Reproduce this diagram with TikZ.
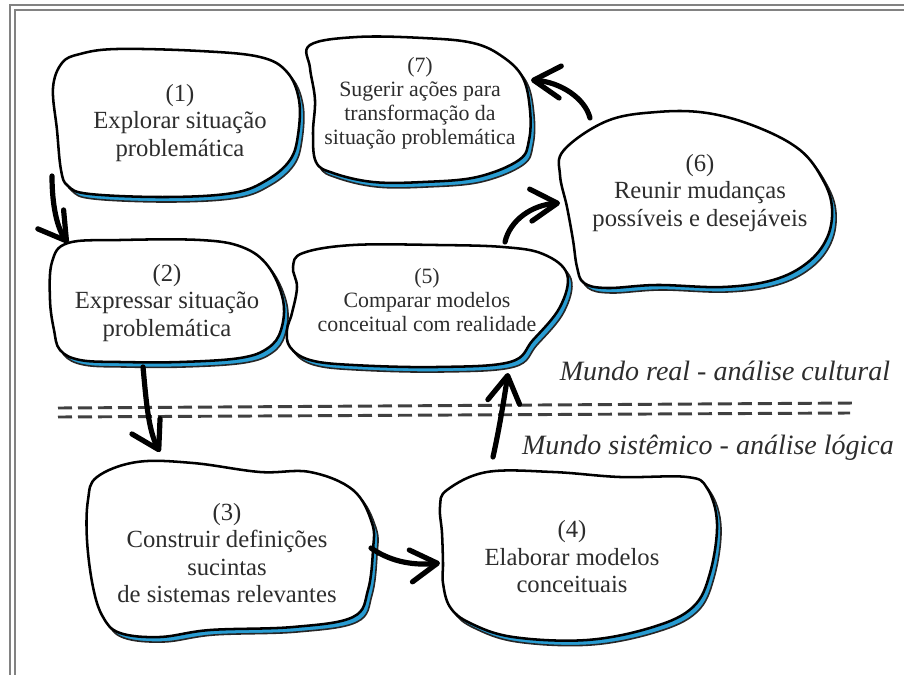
\documentclass[tikz,border=0pt]{standalone}
\usepackage{fontspec}
\setmainfont{Liberation Serif}
\usetikzlibrary{arrows.meta}
\definecolor{shadowblue}{RGB}{40,156,210}
\definecolor{inkgray}{RGB}{45,45,45}
\definecolor{framegray}{RGB}{130,130,130}

% hand-drawn blob: blue drop shadow plus white body with black outline
\newcommand{\drawblob}[1]{%
  \draw[blobshadow, shift={(4,5)}] plot[smooth cycle, tension=0.62] coordinates {#1};
  \draw[blobbody] plot[smooth cycle, tension=0.62] coordinates {#1};
}

\begin{document}
\begin{tikzpicture}[x=0.75pt,y=-0.75pt,
  blobbody/.style={draw=black, line width=1.9pt, fill=white, line join=round},
  blobshadow/.style={draw=black!85, line width=1.2pt, fill=shadowblue, line join=round},
  steplabel/.style={text=inkgray, align=center, font=\fontsize{18.5}{20.6}\selectfont},
  smalllabel/.style={text=inkgray, align=center, font=\fontsize{16.4}{18}\selectfont},
  worldlabel/.style={text=inkgray, font=\fontsize{21}{24}\selectfont\itshape},
  flow/.style={draw=black, line width=3.9pt, line cap=round,
    -{Straight Barb[length=20pt, width=24pt, line cap=round, line join=round]}},
  divider/.style={draw=black!75, line width=2.2pt, dash pattern=on 10.5pt off 4.5pt},
  frameline/.style={draw=framegray, line width=1.2pt}
]
\useasboundingbox (0,0) rectangle (904,675);

% page frame
\draw[frameline] (10,675) -- (10,5) -- (904,5);
\draw[frameline] (15,675) -- (15,10) -- (904,10);

% boundary between the real world and the systems world
\draw[divider] (58,408) -- (855,403);
\draw[divider] (58,417) -- (850,413);

% (1)
\drawblob{(53,88) (62,63) (80,54) (117,49) (200,51) (260,57) (287,72) (299,100)
  (298,135) (290,160) (267,180) (233,193) (167,197) (90,194) (68,186) (61,170) (57,130)}
% (7)
\drawblob{(310,45) (357,37) (423,38) (473,43) (503,57) (523,78) (530,110) (529,140)
  (519,160) (477,177) (423,182) (373,182) (333,173) (316,162) (313,133) (315,100) (310,68)}
% (6)
\drawblob{(564,150) (607,121) (657,112) (707,113) (757,127) (800,150) (823,180) (832,208)
  (827,238) (807,263) (773,280) (723,287) (657,285) (607,288) (584,283) (577,267)
  (573,240) (567,207) (560,175)}
% (2)
\drawblob{(52,262) (68,243) (120,240) (200,240) (242,247) (268,266) (283,300) (281,330)
  (268,348) (240,358) (180,362) (120,362) (80,360) (60,350) (54,330) (50,300)}
% (5)
\drawblob{(303,253) (353,245) (437,245) (503,247) (543,254) (567,274) (560,307) (533,340)
  (510,362) (437,367) (353,365) (310,360) (290,347) (287,330) (292,313) (297,287) (293,267)}
% (3)
\drawblob{(97,477) (137,462) (193,463) (260,472) (310,472) (353,490) (372,523) (373,550)
  (368,590) (353,617) (293,627) (210,630) (160,637) (120,633) (103,617) (93,587)
  (87,540) (88,500)}
% (4)
\drawblob{(447,490) (487,472) (553,472) (620,477) (687,477) (707,488) (717,523) (710,573)
  (693,607) (653,627) (587,640) (513,637) (470,623) (450,607) (443,583) (443,563)
  (442,533) (440,507)}

% step texts
\node[steplabel] (n1) at (180,123) {(1)\\Explorar situação\\problemática};
\node[steplabel] (n2) at (167,303) {(2)\\Expressar situação\\problemática};
\node[steplabel] (n3) at (227,553) {(3)\\Construir definições\\sucintas\\de sistemas relevantes};
\node[steplabel] (n4) at (572,557) {(4)\\Elaborar modelos\\conceituais};
\node[smalllabel] (n5) at (427,300) {(5)\\Comparar modelos\\conceitual com realidade};
\node[steplabel] (n6) at (700,193) {(6)\\Reunir mudanças\\possíveis e desejáveis};
\node[smalllabel] (n7) at (420,103) {(7)\\Sugerir ações para\\transformação da\\situação problemática};

% world labels
\node[worldlabel] (real) at (725,371) {Mundo real - análise cultural};
\node[worldlabel] (sys) at (708,448) {Mundo sistêmico - análise lógica};

% attachment points of the flow arrows
\coordinate (o1) at (52,176);   \coordinate (i2) at (68,243);
\coordinate (o2) at (143,367);  \coordinate (i3) at (160,452);
\coordinate (o3) at (371,548);  \coordinate (i4) at (440,563);
\coordinate (o4) at (493,457);  \coordinate (i5) at (508,373);
\coordinate (o5) at (505,242);  \coordinate (i6) at (560,203);
\coordinate (o6) at (590,118);  \coordinate (i7) at (531,80);

% flow of the method
\draw[flow] (o1) .. controls (52,205) and (57,228) .. (i2);
\draw[flow] (o2) .. controls (146,398) and (148,430) .. (i3);
\draw[flow] (o3) .. controls (388,560) and (410,566) .. (i4);
\draw[flow] (o4) .. controls (499,430) and (504,400) .. (i5);
\draw[flow] (o5) .. controls (510,220) and (532,205) .. (i6);
\draw[flow] (o6) .. controls (585,98) and (560,82) .. (i7);
\end{tikzpicture}
\end{document}
